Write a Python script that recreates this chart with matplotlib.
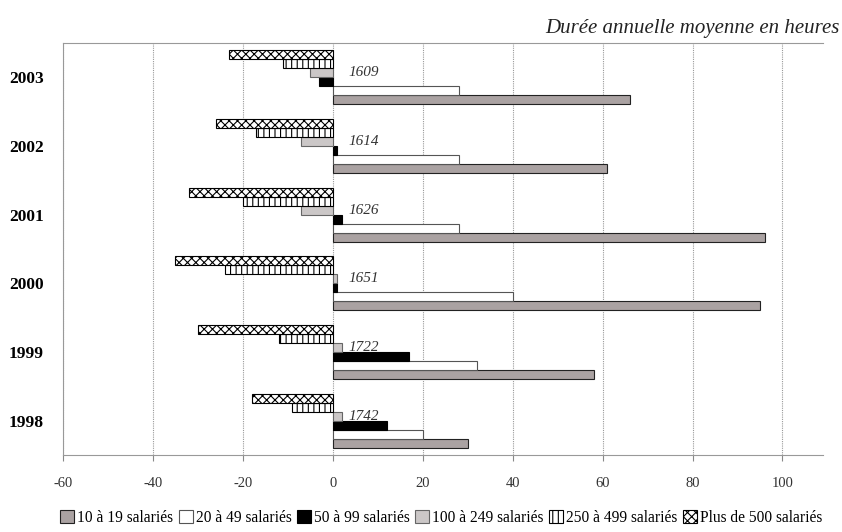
import numpy as np
import matplotlib
matplotlib.use("Agg")
import matplotlib.pyplot as plt

plt.rcParams["font.family"] = ["Liberation Serif", "DejaVu Serif"]
plt.rcParams["hatch.linewidth"] = 0.8
plt.rcParams["axes.unicode_minus"] = False

years = ["1998", "1999", "2000", "2001", "2002", "2003"]
hours = ["1742", "1722", "1651", "1626", "1614", "1609"]
series = ["10 à 19 salariés", "20 à 49 salariés", "50 à 99 salariés",
          "100 à 249 salariés", "250 à 499 salariés", "Plus de 500 salariés"]
s_10_19 = [30, 58, 95, 96, 61, 66]
s_20_49 = [20, 32, 40, 28, 28, 28]
s_50_99 = [12, 17, 1, 2, 1, -3]
s_100_249 = [2, 2, 1, -7, -7, -5]
s_250_499 = [-9, -12, -24, -20, -17, -11]
s_500 = [-18, -30, -35, -32, -26, -23]

values = [s_10_19, s_20_49, s_50_99, s_100_249, s_250_499, s_500]
styles = [
    dict(facecolor="#aaa2a2", edgecolor="#222222", hatch=None),
    dict(facecolor="white", edgecolor="#555555", hatch=None),
    dict(facecolor="black", edgecolor="black", hatch=None),
    dict(facecolor="#cbc7c7", edgecolor="#666666", hatch=None),
    dict(facecolor="white", edgecolor="black", hatch="|||"),
    dict(facecolor="white", edgecolor="black", hatch="xxxx"),
]

fig = plt.figure(figsize=(8.42, 5.32), dpi=100)
ax = fig.add_axes([0.0748, 0.1447, 0.9026, 0.7745])

y = np.arange(len(years))
h = 0.131
for k, (vals, st) in enumerate(zip(values, styles)):
    ax.barh(y + (k - 2.5) * h, vals, height=h, label=series[k],
            linewidth=0.8, zorder=3, **st)

for i, txt in enumerate(hours):
    ax.text(3.5, y[i] + 0.5 * h, txt, style="italic", fontsize=11,
            color="#333333", ha="left", va="center", zorder=4)

ax.set_xlim(-60, 109)
ax.set_ylim(-0.5, 5.5)
ax.set_xticks(np.arange(-60, 101, 20))
ax.set_yticks(y)
ax.set_yticklabels(years, fontweight="bold", fontsize=12.5)
ax.tick_params(axis="y", length=0, pad=14)
ax.tick_params(axis="x", length=4, color="#888888", labelsize=10.5,
               labelcolor="#333333", pad=12)
ax.grid(axis="x", color="#999999", linestyle=(0, (1, 1)), linewidth=0.8, zorder=0)

for side in ["left", "top"]:
    ax.spines[side].set_color("#999999")
    ax.spines[side].set_linestyle((0, (1, 1)))
ax.spines["bottom"].set_color("#999999")
ax.spines["right"].set_visible(False)

fig.text(0.997, 0.947, "Durée annuelle moyenne en heures", style="italic",
         fontsize=15, ha="right", va="center", color="#222222")

fig.legend(loc="center", bbox_to_anchor=(0.524, 0.026), ncol=6, frameon=False,
           fontsize=11.2, handlelength=0.9, handleheight=0.9,
           handletextpad=0.2, columnspacing=0.35, borderaxespad=0)

fig.savefig("out.png", dpi=100)
